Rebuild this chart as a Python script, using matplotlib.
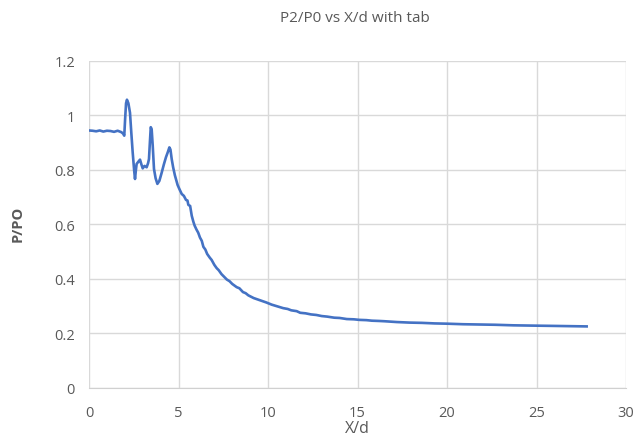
import matplotlib
matplotlib.use("Agg")
import matplotlib.pyplot as plt

title = "P2/P0 vs X/d with tab"
x_label = "X/d"
y_label = "P/PO"

x_vals = [0.0, 0.2, 0.4, 0.6, 0.8, 1.0, 1.2, 1.4, 1.6, 1.8, 1.9, 1.97, 2.02, 2.07, 2.12, 2.2, 2.29,
          2.36, 2.44, 2.52, 2.57, 2.62, 2.66, 2.75, 2.85, 2.93, 3.0, 3.1, 3.22, 3.3, 3.35, 3.4, 3.45,
          3.5, 3.56, 3.63, 3.72, 3.82, 3.93, 4.06, 4.18, 4.3, 4.4, 4.49, 4.55, 4.62, 4.7, 4.8, 4.95,
          5.05, 5.18, 5.3, 5.42, 5.5, 5.55, 5.65, 5.74, 5.83, 5.9, 6.0, 6.1, 6.2, 6.3, 6.39, 6.5,
          6.6, 6.75, 6.85, 7.0, 7.13, 7.25, 7.4, 7.55, 7.7, 7.85, 8.0, 8.25, 8.4, 8.6, 8.75, 8.9,
          9.2, 9.55, 9.9, 10.2, 10.5, 10.85, 11.1, 11.3, 11.6, 11.8, 12.1, 12.4, 12.7, 13.0, 13.3,
          13.7, 14.0, 14.4, 14.8, 15.1, 15.5, 15.8, 16.2, 16.5, 17.2, 17.9, 18.6, 19.3, 20.0, 20.9,
          21.8, 22.7, 23.7, 24.7, 25.8, 26.8, 27.8]
y_vals = [0.945, 0.944, 0.942, 0.945, 0.941, 0.944, 0.943, 0.940, 0.944, 0.939, 0.934, 0.926, 0.990,
          1.045, 1.058, 1.045, 1.010, 0.940, 0.865, 0.800, 0.767, 0.800, 0.822, 0.830, 0.838, 0.820,
          0.806, 0.815, 0.810, 0.825, 0.840, 0.900, 0.957, 0.950, 0.889, 0.804, 0.770, 0.749, 0.760,
          0.790, 0.820, 0.847, 0.865, 0.883, 0.875, 0.840, 0.810, 0.780, 0.745, 0.730, 0.712, 0.705,
          0.690, 0.688, 0.672, 0.668, 0.632, 0.610, 0.596, 0.582, 0.570, 0.552, 0.540, 0.518, 0.508,
          0.492, 0.478, 0.470, 0.452, 0.440, 0.432, 0.418, 0.408, 0.398, 0.392, 0.382, 0.370, 0.366,
          0.352, 0.348, 0.340, 0.330, 0.322, 0.314, 0.306, 0.300, 0.293, 0.290, 0.285, 0.282, 0.276,
          0.274, 0.270, 0.268, 0.264, 0.262, 0.258, 0.257, 0.253, 0.252, 0.250, 0.249, 0.247, 0.246,
          0.245, 0.242, 0.240, 0.239, 0.237, 0.236, 0.234, 0.233, 0.232, 0.230, 0.229, 0.228, 0.227,
          0.226]

x_ticks = [0, 5, 10, 15, 20, 25, 30]
y_ticks = [0, 0.2, 0.4, 0.6, 0.8, 1.0, 1.2]
y_tick_labels = ["0", "0.2", "0.4", "0.6", "0.8", "1", "1.2"]

plt.rcParams['font.family'] = ['Open Sans', 'DejaVu Sans']

fig = plt.figure(figsize=(6.33, 4.39), dpi=100)
ax = fig.add_axes([0.1406, 0.1139, 0.8484, 0.7449])

ax.plot(x_vals, y_vals, color="#4472C4", linewidth=1.9)

ax.set_xlim(0, 30)
ax.set_ylim(0, 1.2)
ax.set_xticks(x_ticks)
ax.set_yticks(y_ticks)
ax.set_yticklabels(y_tick_labels)
ax.grid(True, color="#d9d9d9", linewidth=1.0)
ax.set_axisbelow(True)
for s in ["top", "right", "left"]:
    ax.spines[s].set_visible(False)
ax.spines["bottom"].set_color("#d0d0d0")
ax.tick_params(axis="both", length=0, colors="#595959", labelsize=10.5)
ax.tick_params(axis="x", pad=12)
ax.tick_params(axis="y", pad=10)

fig.text(0.56, 0.958, title, ha="center", va="center", fontsize=11, color="#595959")
fig.text(0.564, 0.022, x_label, ha="center", va="center", fontsize=11.5, color="#595959")
fig.text(0.028, 0.49, y_label, ha="center", va="center", rotation=90, fontsize=10.5,
         color="#595959", fontweight="bold")

fig.savefig("out.png", dpi=100)
